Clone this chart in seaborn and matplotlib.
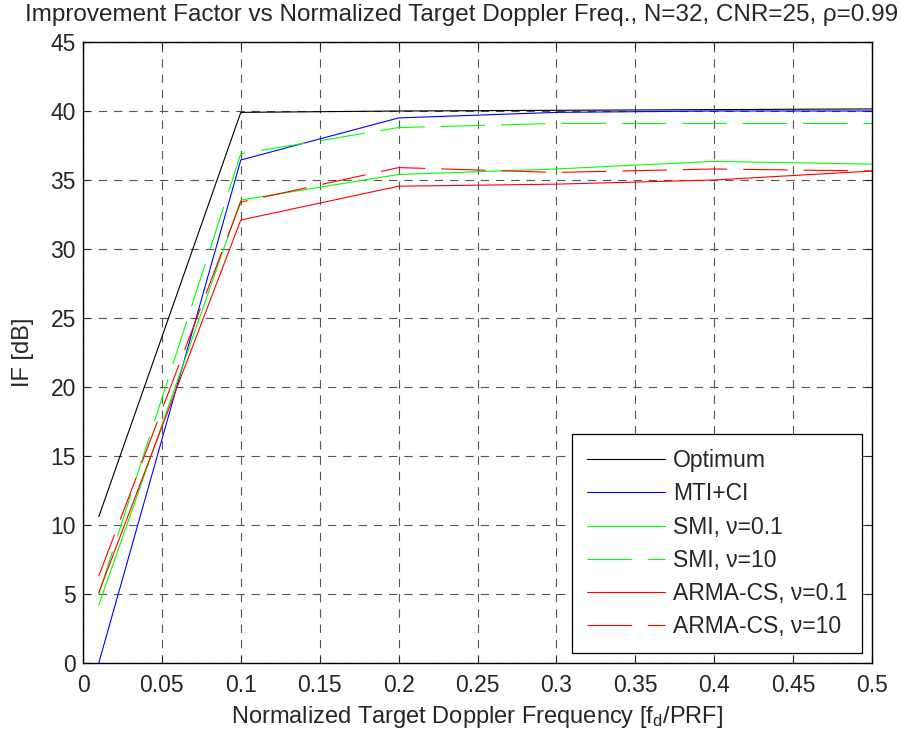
import matplotlib
matplotlib.use("Agg")
import matplotlib.pyplot as plt
import seaborn as sns
import pandas as pd

fd = [0.01, 0.1, 0.2, 0.3, 0.4, 0.5]
optimum = [10.6, 39.9, 40.0, 40.05, 40.1, 40.15]
mti_ci = [0.0, 36.45, 39.5, 39.9, 40.0, 40.0]
smi_01 = [4.2, 33.55, 35.4, 35.8, 36.35, 36.15]
smi_10 = [5.0, 36.9, 38.8, 39.1, 39.1, 39.1]
arma_01 = [5.1, 32.1, 34.55, 34.7, 35.0, 35.65]
arma_10 = [6.3, 33.4, 35.9, 35.55, 35.8, 35.65]

names = ["Optimum", "MTI+CI", "SMI, \u03bd=0.1", "SMI, \u03bd=10",
         "ARMA-CS, \u03bd=0.1", "ARMA-CS, \u03bd=10"]
series = [optimum, mti_ci, smi_01, smi_10, arma_01, arma_10]
colors = ["#000000", "#0000ff", "#00ff00", "#00ff00", "#ff0000", "#ff0000"]
dash = (0, (32, 11.5))
styles = ["-", "-", "-", dash, "-", dash]

sns.set_style("white")
plt.rcParams["font.family"] = ["Liberation Sans", "DejaVu Sans"]
plt.rcParams["mathtext.fontset"] = "custom"
plt.rcParams["mathtext.rm"] = "Liberation Sans"
plt.rcParams["mathtext.it"] = "Liberation Sans:italic"
plt.rcParams["lines.scale_dashes"] = False

FS = 16.5

fig = plt.figure(figsize=(9.01, 7.35), dpi=100)
ax = fig.add_axes([83 / 901, 1 - 663 / 735, (872 - 83) / 901, (663 - 42) / 735])

for n, s, c, ls in zip(names, series, colors, styles):
    d = pd.DataFrame({"fd": fd, "IF": s})
    sns.lineplot(data=d, x="fd", y="IF", color=c, linestyle=ls,
                 linewidth=0.8, ax=ax, label=n)

ax.set_xlim(0, 0.5)
ax.set_ylim(0, 45)
ax.set_xticks([0, 0.05, 0.1, 0.15, 0.2, 0.25, 0.3, 0.35, 0.4, 0.45, 0.5])
ax.set_xticklabels(["0", "0.05", "0.1", "0.15", "0.2", "0.25", "0.3", "0.35", "0.4", "0.45", "0.5"])
ax.set_yticks(range(0, 46, 5))
ax.grid(True, color="#555555", linestyle=(0, (6, 5)), linewidth=0.8)
ax.tick_params(direction="in", length=5, labelsize=FS, top=True, right=True,
               bottom=True, left=True, width=0.8)
ax.tick_params(axis="x", pad=8)
ax.tick_params(axis="y", pad=5)
for sp in ax.spines.values():
    sp.set_color("black")
    sp.set_linewidth(1.0)

ax.set_xlabel("Normalized Target Doppler Frequency [f$_{\\mathrm{d}}$/PRF]", fontsize=17, labelpad=5)
ax.set_ylabel("IF [dB]", fontsize=17, labelpad=12)
ax.set_title("Improvement Factor vs Normalized Target Doppler Freq., N=32, CNR=25, \u03c1=0.99",
             fontsize=17.5, pad=15, x=0.48)

leg = ax.legend(loc="lower right", fontsize=FS, frameon=True,
                fancybox=False, edgecolor="black", framealpha=1,
                handlelength=3.4, labelspacing=0.45, borderaxespad=0.42,
                handletextpad=0.35, borderpad=0.65)
leg.get_frame().set_linewidth(0.9)
for line in leg.get_lines():
    line.set_linewidth(0.8)

fig.savefig("out.png", dpi=100)
